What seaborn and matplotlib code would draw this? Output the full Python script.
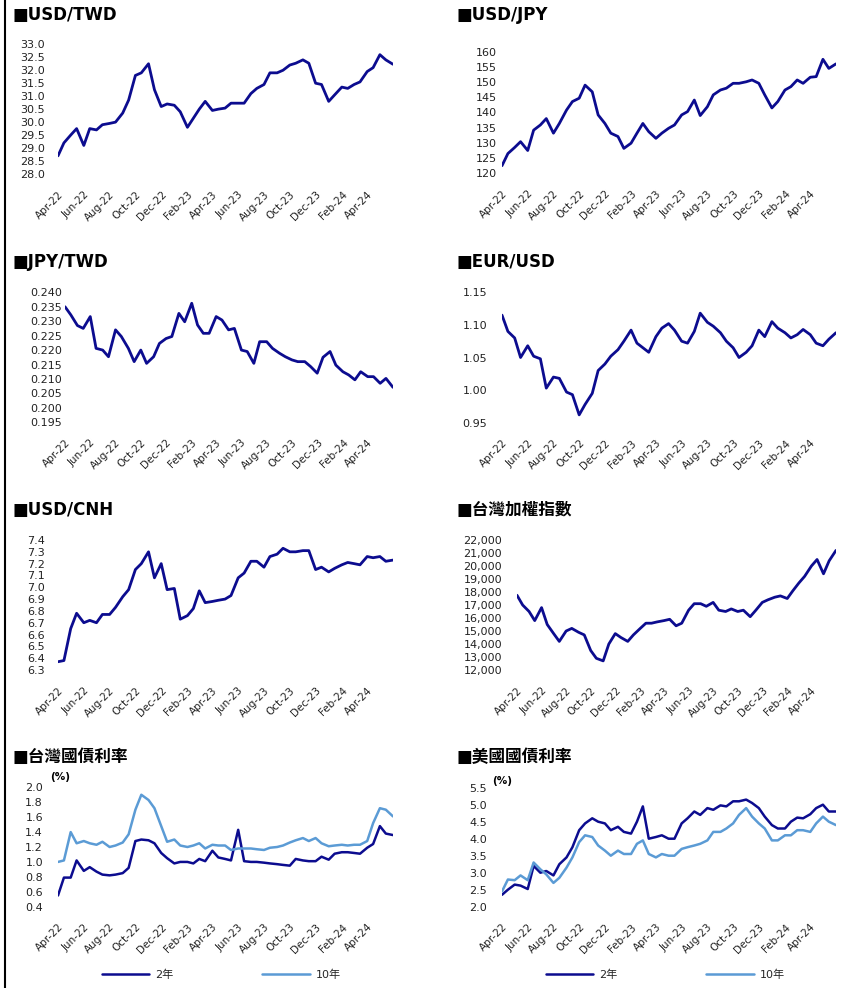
import matplotlib
matplotlib.use("Agg")
import matplotlib.pyplot as plt
import matplotlib.dates as mdates
from matplotlib.lines import Line2D
import seaborn as sns
import pandas as pd
import numpy as np

sns.set_theme(style="white")
plt.rcParams["font.family"] = ["DejaVu Sans", "Noto Sans CJK TC"]

W, H = 861, 988
DARK = "#0c0c8f"
LIGHT = "#5b9bd5"

# ── DATA (semi-monthly readings, Apr-2022 .. Jun-2024)
dates = pd.date_range("2022-04-01", "2024-06-01", freq="SMS")
xticks = pd.date_range("2022-04-01", "2024-04-01", freq="2MS")

usd_twd = [28.7, 29.2, 29.5, 29.75, 29.1, 29.75, 29.7, 29.9, 29.95, 30.0,
           30.35, 30.85, 31.8, 31.9, 32.25, 31.25, 30.6, 30.7, 30.65, 30.4,
           29.8, 30.15, 30.5, 30.8, 30.45, 30.5, 30.54, 30.73, 30.73, 30.73,
           31.1, 31.3, 31.45, 31.9, 31.9, 32.0, 32.2, 32.27, 32.4, 32.27,
           31.5, 31.45, 30.8, 31.05, 31.35, 31.3, 31.45, 31.55, 31.95, 32.1,
           32.6, 32.4, 32.23]
usd_jpy = [122.5, 126.5, 128.5, 130.4, 127.5, 134.2, 135.9, 138.0, 133.2, 136.4,
           140.8, 143.6, 144.7, 149.0, 146.8, 139.2, 136.4, 133.2, 132.1, 128.2,
           129.9, 133.2, 136.4, 133.7, 131.5, 133.2, 134.8, 135.9, 139.2, 140.3,
           144.1, 139.0, 141.9, 145.8, 147.4, 148.0, 149.6, 149.6, 150.1, 150.7,
           149.6, 145.8, 141.5, 143.6, 147.4, 148.5, 150.7, 149.6, 151.6, 151.8,
           157.5, 154.5, 156.0]
jpy_twd = [0.2350, 0.2322, 0.2285, 0.2275, 0.2316, 0.2206, 0.2200, 0.2177, 0.2270, 0.2247,
           0.2206, 0.2160, 0.2200, 0.2154, 0.2177, 0.2223, 0.2240, 0.2247, 0.2327, 0.2298,
           0.2362, 0.2287, 0.2258, 0.2258, 0.2316, 0.2304, 0.2270, 0.2275, 0.2200, 0.2195,
           0.2154, 0.2229, 0.2229, 0.2206, 0.2189, 0.2177, 0.2166, 0.2160, 0.2160, 0.2143,
           0.2120, 0.2175, 0.2195, 0.2148, 0.2125, 0.2114, 0.2097, 0.2125, 0.2108, 0.2108,
           0.2085, 0.2102, 0.2071]
eur_usd = [1.115, 1.090, 1.080, 1.050, 1.068, 1.052, 1.048, 1.003, 1.020, 1.018,
           0.997, 0.993, 0.962, 0.978, 0.995, 1.030, 1.040, 1.052, 1.062, 1.075,
           1.092, 1.072, 1.065, 1.058, 1.082, 1.095, 1.102, 1.092, 1.075, 1.072,
           1.090, 1.118, 1.104, 1.098, 1.088, 1.075, 1.065, 1.050, 1.058, 1.068,
           1.092, 1.082, 1.105, 1.095, 1.088, 1.080, 1.085, 1.093, 1.085, 1.072,
           1.068, 1.078, 1.088]
usd_cnh = [6.37, 6.38, 6.65, 6.78, 6.70, 6.72, 6.70, 6.77, 6.77, 6.83,
           6.92, 6.98, 7.15, 7.20, 7.30, 7.08, 7.20, 6.98, 6.99, 6.73,
           6.76, 6.82, 6.97, 6.87, 6.88, 6.89, 6.90, 6.93, 7.08, 7.12,
           7.22, 7.22, 7.17, 7.26, 7.28, 7.33, 7.30, 7.30, 7.31, 7.31,
           7.15, 7.17, 7.13, 7.16, 7.19, 7.21, 7.20, 7.19, 7.26, 7.25,
           7.26, 7.22, 7.23]
taiex = [17750, 17000, 16500, 15800, 16800, 15500, 14800, 14200, 15000, 15200,
         14900, 14700, 13500, 12900, 12700, 14000, 14800, 14500, 14200, 14700,
         15200, 15600, 15600, 15700, 15800, 15900, 15400, 15600, 16600, 17100,
         17100, 16900, 17200, 16600, 16500, 16700, 16500, 16600, 16100, 16600,
         17200, 17400, 17600, 17700, 17500, 18100, 18700, 19200, 20000, 20500,
         19400, 20400, 21200]
tw_2y = [0.55, 0.79, 0.79, 1.02, 0.88, 0.93, 0.87, 0.83, 0.82, 0.83,
         0.85, 0.92, 1.28, 1.30, 1.29, 1.25, 1.12, 1.05, 0.98, 1.00,
         1.00, 0.98, 1.04, 1.01, 1.15, 1.06, 1.04, 1.02, 1.43, 1.01,
         1.00, 1.00, 0.99, 0.98, 0.97, 0.96, 0.95, 1.04, 1.02, 1.01,
         1.01, 1.07, 1.03, 1.11, 1.13, 1.13, 1.12, 1.11, 1.19, 1.24,
         1.48, 1.38, 1.36]
tw_10y = [1.00, 1.02, 1.40, 1.25, 1.28, 1.25, 1.23, 1.27, 1.20, 1.22,
          1.26, 1.37, 1.70, 1.90, 1.83, 1.72, 1.48, 1.27, 1.30, 1.22,
          1.20, 1.22, 1.25, 1.18, 1.23, 1.22, 1.22, 1.16, 1.18, 1.18,
          1.18, 1.17, 1.16, 1.19, 1.20, 1.22, 1.26, 1.29, 1.32, 1.28,
          1.32, 1.25, 1.21, 1.22, 1.23, 1.22, 1.23, 1.23, 1.28, 1.52,
          1.72, 1.70, 1.61]
us_2y = [2.35, 2.50, 2.65, 2.62, 2.52, 3.20, 3.00, 3.05, 2.92, 3.25,
         3.45, 3.75, 4.25, 4.45, 4.60, 4.50, 4.45, 4.25, 4.35, 4.20,
         4.15, 4.50, 4.95, 4.00, 4.05, 4.10, 4.00, 4.00, 4.45, 4.60,
         4.80, 4.70, 4.90, 4.85, 4.98, 4.95, 5.10, 5.10, 5.15, 5.05,
         4.90, 4.65, 4.40, 4.30, 4.30, 4.50, 4.62, 4.60, 4.72, 4.90,
         5.00, 4.80, 4.80]
us_10y = [2.45, 2.80, 2.78, 2.92, 2.78, 3.30, 3.10, 2.95, 2.70, 2.85,
          3.15, 3.45, 3.90, 4.10, 4.05, 3.80, 3.65, 3.50, 3.65, 3.55,
          3.55, 3.85, 3.95, 3.55, 3.45, 3.55, 3.50, 3.50, 3.70, 3.75,
          3.80, 3.85, 3.95, 4.20, 4.20, 4.30, 4.45, 4.70, 4.90, 4.65,
          4.45, 4.30, 3.95, 3.95, 4.10, 4.10, 4.25, 4.25, 4.20, 4.45,
          4.65, 4.50, 4.40]

fig = plt.figure(figsize=(W / 100, H / 100), dpi=100)


def make_ax(left, right, top, bottom):
    # pixel box -> figure fraction
    return fig.add_axes([left / W, 1 - bottom / H, (right - left) / W, (bottom - top) / H])


def style(ax, lo, hi, step, fmt, ypad):
    ax.set_xlim(dates[0], dates[-1])
    ax.set_ylim(lo, hi)
    n = int(round((hi - lo) / step))
    ax.set_yticks(np.linspace(lo, hi, n + 1))
    ax.yaxis.set_major_formatter(matplotlib.ticker.FuncFormatter(lambda v, p: fmt.format(v)))
    ax.set_xticks(xticks)
    ax.xaxis.set_major_formatter(mdates.DateFormatter("%b-%y"))
    ax.tick_params(axis="y", length=0, pad=ypad, labelsize=8, labelcolor="#222222")
    ax.tick_params(axis="x", length=0, pad=11, labelsize=7.5, labelcolor="#222222")
    for lab in ax.get_xticklabels():
        lab.set_rotation(45)
        lab.set_ha("right")
        lab.set_rotation_mode("anchor")
    ax.set_xlabel("")
    ax.set_ylabel("")
    ax.grid(False)
    sns.despine(ax=ax, left=True, bottom=True)


def title(x, y, text):
    fig.text(x / W, 1 - y / H, "■" + text, fontsize=12, fontweight="bold",
             ha="left", va="center", color="black")


# row 1
ax = make_ax(58, 393, 44.3, 174)
sns.lineplot(x=dates, y=usd_twd, ax=ax, color=DARK, lw=2)
style(ax, 28.0, 33.0, 0.5, "{:.1f}", 9.4)
title(12, 15, "USD/TWD")

ax = make_ax(502, 836, 51.7, 173.3)
sns.lineplot(x=dates, y=usd_jpy, ax=ax, color=DARK, lw=2)
style(ax, 120, 160, 5, "{:.0f}", 3.6)
title(457, 15, "USD/JPY")

# row 2
ax = make_ax(65, 393, 292.3, 422.3)
sns.lineplot(x=dates, y=jpy_twd, ax=ax, color=DARK, lw=2)
style(ax, 0.195, 0.240, 0.005, "{:.3f}", 2.2)
title(12, 262, "JPY/TWD")

ax = make_ax(502, 836, 292.3, 422.7)
sns.lineplot(x=dates, y=eur_usd, ax=ax, color=DARK, lw=2)
style(ax, 0.95, 1.15, 0.05, "{:.2f}", 10.8)
title(457, 262, "EUR/USD")

# row 3
ax = make_ax(58, 393, 540, 670)
sns.lineplot(x=dates, y=usd_cnh, ax=ax, color=DARK, lw=2)
style(ax, 6.3, 7.4, 0.1, "{:.1f}", 9.4)
title(12, 510, "USD/CNH")

ax = make_ax(517, 836, 540, 670)
sns.lineplot(x=dates, y=taiex, ax=ax, color=DARK, lw=2)
style(ax, 12000, 22000, 1000, "{:,.0f}", 10.8)
title(457, 510, "台灣加權指數")

# row 4 – bond yields
bond_panels = [
    (58, 393, 787.3, 906.7, tw_2y, tw_10y, 0.4, 2.0, 0.2, 12, "台灣國債利率", 50, 777, 221),
    (502, 836, 787.7, 906.7, us_2y, us_10y, 2.0, 5.5, 0.5, 457, "美國國債利率", 492, 781, 665),
]
for l, r, t, b, y2, y10, lo, hi, step, tx, name, px, py, lx in bond_panels:
    ax = make_ax(l, r, t, b)
    sns.lineplot(x=dates, y=y2, ax=ax, color=DARK, lw=1.8, label="2年")
    sns.lineplot(x=dates, y=y10, ax=ax, color=LIGHT, lw=1.8, label="10年")
    style(ax, lo, hi, step, "{:.1f}", 10.8)
    title(tx, 757, name)
    fig.text(px / W, 1 - py / H, "(%)", fontsize=7.5, fontweight="bold",
             ha="left", va="center", color="black")
    ax.legend(loc="center", bbox_to_anchor=(lx / W, 1 - 975 / H),
              bbox_transform=fig.transFigure, ncol=2, frameon=False,
              fontsize=8, handlelength=4.3, handletextpad=0.5, columnspacing=8)

# left border
fig.add_artist(Line2D([5 / W, 5 / W], [0, 1], color="black", lw=1.5,
                      transform=fig.transFigure))

fig.savefig("out.png", dpi=100)
